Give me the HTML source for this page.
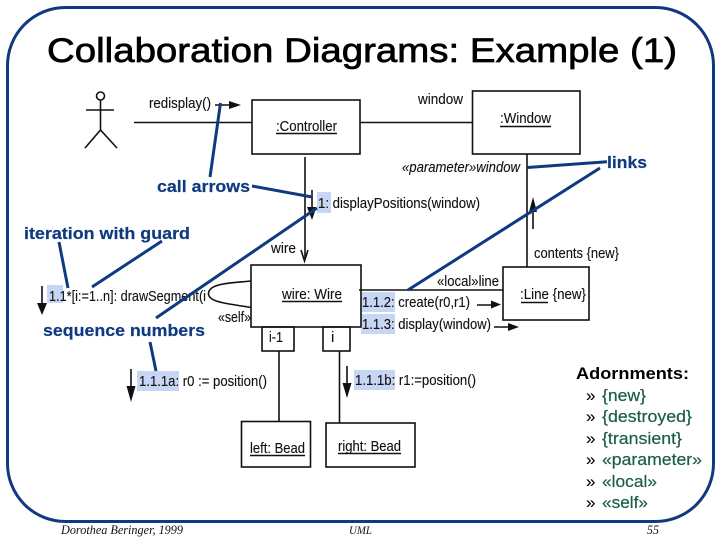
<!DOCTYPE html>
<html><head><meta charset="utf-8"><style>
html,body{margin:0;padding:0;background:#fff}
svg{display:block}
text{font-family:"Liberation Sans",sans-serif;fill:#111;font-size:15px;stroke:#111;stroke-width:.12}
.b line,.b path,.b rect.o{stroke:#111;stroke-width:1.6;fill:none}
.n{stroke:#0f3a80;stroke-width:3;fill:none}
.a{fill:#0f3a80;stroke:#0f3a80;stroke-width:.2;font-weight:bold;font-size:16.5px}
.g{fill:#1b5e45;font-size:16.5px;stroke:#1b5e45;stroke-width:.2}
.k{fill:#000;font-size:17px}
.f{font-family:"Liberation Serif",serif;font-style:italic;font-size:13px;fill:#111;stroke:none}
.h{fill:#c7d6f5}
.t{fill:#111;stroke:none}
</style></head><body>
<svg width="720" height="540" viewBox="0 0 720 540" xmlns="http://www.w3.org/2000/svg">
<rect width="720" height="540" fill="#fff"/>
<rect x="7.5" y="7.5" width="706" height="514" rx="58" ry="58" fill="none" stroke="#0f3a80" stroke-width="3"/>
<text x="47" y="62" textLength="630" lengthAdjust="spacingAndGlyphs" style="font-size:34px;fill:#000;stroke:#000;stroke-width:.7">Collaboration Diagrams: Example (1)</text>

<rect class="h" x="317" y="192" width="14" height="21"/>
<rect class="h" x="47" y="285" width="16" height="18"/>
<rect class="h" x="137" y="371" width="42" height="20"/>
<rect class="h" x="354" y="370" width="41" height="20"/>
<rect class="h" x="361" y="292" width="34" height="20"/>
<rect class="h" x="361" y="314" width="34" height="20"/>

<g class="b">
<circle cx="100.500" cy="96" r="4" fill="none" stroke="#111" stroke-width="1.6"/>
<path d="M100.500 100V130M86 110H114M85 148L100.500 130L117 148"/>
<rect class="o" x="252" y="100" width="108" height="54"/>
<rect class="o" x="472.500" y="91" width="107.500" height="63"/>
<rect class="o" x="251" y="265" width="110" height="62"/>
<rect class="o" x="503" y="267" width="86" height="53"/>
<rect class="o" x="262" y="327" width="32" height="24"/>
<rect class="o" x="323" y="327" width="27" height="24"/>
<rect class="o" x="241.500" y="421.500" width="69" height="45.500"/>
<rect class="o" x="326" y="423" width="89" height="44"/>
<path d="M134 122.500H252M360 122.500H472.500M305 157V258M527 154V267M359 290H503M279 351V421.500M339.500 351V423"/>
<path d="M301 250L304.500 261L308 250"/>
<path d="M251 281C232 283 208 283 208.500 294C209 303 232 304 251 307.500"/>
<path d="M215 105H229M312 190V207M533 229V212M42 286V303M131 369V386M347 366V383M477 305H491M494 327H508"/>
<path d="M276 133.500H337M500 126.500H551M282 301.500H342M521 302.500H548M250 455.500H305M338 453.500H401"/>
</g>
<path class="t" d="M229 101L241 105L229 109Z"/>
<path class="t" d="M307 207H316.500L312 220Z"/>
<path class="t" d="M529 212H537L533 197Z"/>
<path class="t" d="M37 303H47L42 315Z"/>
<path class="t" d="M126.500 386H135.500L131 402Z"/>
<path class="t" d="M342.500 383H351.500L347 398Z"/>
<path class="t" d="M491 300.500L501 304.500L491 308.500Z"/>
<path class="t" d="M508 323L519 327L508 331Z"/>

<text x="149" y="108" textLength="62" lengthAdjust="spacingAndGlyphs">redisplay()</text>
<text x="276" y="131" textLength="61" lengthAdjust="spacingAndGlyphs">:Controller</text>
<text x="418" y="104" textLength="45" lengthAdjust="spacingAndGlyphs">window</text>
<text x="500" y="123" textLength="51" lengthAdjust="spacingAndGlyphs">:Window</text>
<text x="402" y="172" textLength="118" lengthAdjust="spacingAndGlyphs" font-style="italic">«parameter»window</text>
<text x="318" y="208" textLength="162" lengthAdjust="spacingAndGlyphs">1: displayPositions(window)</text>
<text x="271" y="253" textLength="25" lengthAdjust="spacingAndGlyphs">wire</text>
<text x="534" y="258" textLength="85" lengthAdjust="spacingAndGlyphs">contents {new}</text>
<text x="437" y="286" textLength="62" lengthAdjust="spacingAndGlyphs">«local»line</text>
<text x="520" y="299" textLength="66" lengthAdjust="spacingAndGlyphs">:Line {new}</text>
<text x="282" y="299" textLength="60" lengthAdjust="spacingAndGlyphs">wire: Wire</text>
<text x="362" y="307" textLength="108" lengthAdjust="spacingAndGlyphs">1.1.2: create(r0,r1)</text>
<text x="362" y="329" textLength="129" lengthAdjust="spacingAndGlyphs">1.1.3: display(window)</text>
<text x="49" y="301" textLength="157" lengthAdjust="spacingAndGlyphs">1.1*[i:=1..n]: drawSegment(i</text>
<text x="218" y="322" textLength="33" lengthAdjust="spacingAndGlyphs">«self»</text>
<text x="269" y="342" textLength="14" lengthAdjust="spacingAndGlyphs">i-1</text>
<text x="331" y="342">i</text>
<text x="139" y="386" textLength="128" lengthAdjust="spacingAndGlyphs">1.1.1a: r0 := position()</text>
<text x="355" y="385" textLength="121" lengthAdjust="spacingAndGlyphs">1.1.1b: r1:=position()</text>
<text x="250" y="453" textLength="55" lengthAdjust="spacingAndGlyphs">left: Bead</text>
<text x="338" y="451" textLength="63" lengthAdjust="spacingAndGlyphs">right: Bead</text>

<path class="n" d="M220.500 103L210 177M252 186L312 197M317 208L156 318M527.500 167.500L607 161.700M600 168L408 290M59 242L68 288M162 241L92 287M150 342L156 371"/>
<text class="a" x="157" y="192" textLength="93" lengthAdjust="spacingAndGlyphs">call arrows</text>
<text class="a" x="607" y="168" textLength="40" lengthAdjust="spacingAndGlyphs">links</text>
<text class="a" x="24" y="239" textLength="166" lengthAdjust="spacingAndGlyphs">iteration with guard</text>
<text class="a" x="43" y="336" textLength="162" lengthAdjust="spacingAndGlyphs">sequence numbers</text>

<text x="576" y="379" textLength="113" lengthAdjust="spacingAndGlyphs" style="font-size:17px;font-weight:bold;fill:#000;stroke:none">Adornments:</text>
<text class="k" x="586" y="401">»</text><text class="g" x="602" y="401" textLength="44" lengthAdjust="spacingAndGlyphs">{new}</text>
<text class="k" x="586" y="422">»</text><text class="g" x="602" y="422" textLength="90" lengthAdjust="spacingAndGlyphs">{destroyed}</text>
<text class="k" x="586" y="444">»</text><text class="g" x="602" y="444" textLength="80" lengthAdjust="spacingAndGlyphs">{transient}</text>
<text class="k" x="586" y="465">»</text><text class="g" x="602" y="465" textLength="100" lengthAdjust="spacingAndGlyphs">«parameter»</text>
<text class="k" x="586" y="487">»</text><text class="g" x="602" y="487" textLength="55" lengthAdjust="spacingAndGlyphs">«local»</text>
<text class="k" x="586" y="508">»</text><text class="g" x="602" y="508" textLength="46" lengthAdjust="spacingAndGlyphs">«self»</text>

<text class="f" x="61" y="534" textLength="122" lengthAdjust="spacingAndGlyphs">Dorothea Beringer, 1999</text>
<text class="f" x="349" y="534" textLength="23" lengthAdjust="spacingAndGlyphs" style="font-size:12px">UML</text>
<text class="f" x="647" y="534" textLength="12" lengthAdjust="spacingAndGlyphs">55</text>
</svg>
</body></html>
